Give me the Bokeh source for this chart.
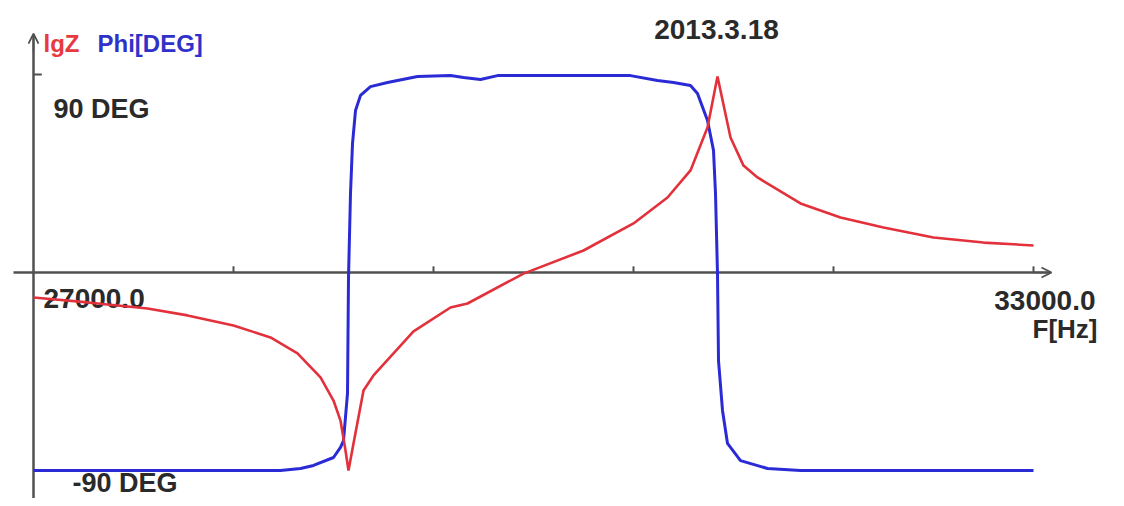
from bokeh.plotting import figure
from bokeh.models import Range1d, Arrow, OpenHead
from bokeh.core.properties import value
from bokeh.embed import file_html
from bokeh.resources import INLINE

# ---- data ----
# Phase (degrees) vs frequency (Hz)
phi_freq = [27000, 28002, 28482, 28602, 28680, 28800, 28842, 28860, 28884, 28890,
            28902, 28914, 28932, 28962, 29022, 29124, 29304, 29502, 29580, 29682,
            29784, 30582, 30744, 30840, 30942, 30984, 31044, 31080, 31092, 31104,
            31110, 31134, 31164, 31242, 31404, 31602, 33000]
phi_deg = [-90, -90, -90, -89.1, -87.7, -84.1, -79.5, -76.4, -55, -2.3,
           35.9, 58.6, 73.6, 80.5, 84.5, 86.4, 89.1, 89.5, 88.6, 87.7,
           89.5, 89.5, 87.3, 86.4, 85, 81.4, 69.1, 55.5, 35.9, -0.5,
           -40, -62.7, -77.7, -85.5, -89.1, -90, -90]

# lgZ (relative, on the same vertical scale as the phase trace)
lgz_freq = [27000, 27324, 27684, 27924, 28200, 28422, 28584, 28722, 28800, 28842,
            28872, 28890, 28920, 28980, 29040, 29280, 29502, 29604, 29940, 30300,
            30600, 30804, 30942, 31044, 31104, 31182, 31260, 31344, 31602, 31842,
            32100, 32400, 32700, 33000]
lgz_val = [-11.4, -13.6, -16.4, -19.5, -24.1, -29.5, -36.8, -47.7, -58.2, -67.3,
           -80.9, -90, -77.7, -53.6, -46.8, -26.8, -15.9, -14.1, -0.5, 10,
           22.3, 34.1, 46.4, 65.9, 89.1, 61.4, 48.6, 43.2, 31.4, 25,
           20.5, 15.9, 13.6, 12.3]

x_start, x_end = 27000, 33000
x_ticks = [28200, 29400, 30600, 31800, 33000]
date_text = "2013.3.18"

# ---- figure ----
W, H = 1108, 498
Y_BOTTOM = -102.73
p = figure(width=W, height=H, output_backend="svg", toolbar_location=None,
           x_range=Range1d(26802, 33450), y_range=Range1d(Y_BOTTOM, 123.64),
           min_border=0)
p.xaxis.visible = False
p.yaxis.visible = False
p.xgrid.visible = False
p.ygrid.visible = False
p.outline_line_color = None
p.background_fill_color = "white"
p.border_fill_color = "white"

AX = "#505050"
TXT = "#2a2a2a"
FONT = value("Liberation Sans")

# texts (drawn first so the traces run over them)
p.text(x=[27060], y=[104.1], text=["lgZ"], text_color="#e53a3f", text_font=FONT,
       text_font_size="24px", text_font_style="bold", text_baseline="middle")
p.text(x=[27384], y=[104.1], text=["Phi[DEG]"], text_color="#2f32c8", text_font=FONT,
       text_font_size="24px", text_font_style="bold", text_baseline="middle")
p.text(x=[27120], y=[74.1], text=["90 DEG"], text_color=TXT, text_font=FONT,
       text_font_size="27px", text_font_style="bold", text_baseline="middle")
p.text(x=[31098], y=[110.5], text=[date_text], text_color=TXT, text_font=FONT,
       text_font_size="28px", text_font_style="bold", text_baseline="middle",
       text_align="center")
p.text(x=[27060], y=[-11.8], text=["%.1f" % x_start], text_color=TXT, text_font=FONT,
       text_font_size="28px", text_font_style="bold", text_baseline="middle")
p.text(x=[33372], y=[-12.7], text=["%.1f" % x_end], text_color=TXT, text_font=FONT,
       text_font_size="28px", text_font_style="bold", text_baseline="middle",
       text_align="right")
p.text(x=[33384], y=[-25.5], text=["F[Hz]"], text_color=TXT, text_font=FONT,
       text_font_size="26px", text_font_style="bold", text_baseline="middle",
       text_align="right")
p.text(x=[27234], y=[-95.5], text=["-90 DEG"], text_color=TXT, text_font=FONT,
       text_font_size="27px", text_font_style="bold", text_baseline="middle")

# axes
p.segment(x0=[26880], y0=[0], x1=[33090], y1=[0], line_color=AX, line_width=2.5)
p.segment(x0=[x_start], y0=[Y_BOTTOM], x1=[x_start], y1=[108], line_color=AX, line_width=2.5)
p.add_layout(Arrow(end=OpenHead(size=10, line_color=AX, line_width=1.8),
                   x_start=33000, y_start=0, x_end=33108, y_end=0,
                   line_color=AX, line_width=1.5))
p.add_layout(Arrow(end=OpenHead(size=10, line_color=AX, line_width=1.8),
                   x_start=x_start, y_start=100, x_end=x_start, y_end=108.6,
                   line_color=AX, line_width=1.5))
p.segment(x0=x_ticks, y0=[0] * len(x_ticks), x1=x_ticks, y1=[2.8] * len(x_ticks),
          line_color=AX, line_width=2)
p.segment(x0=[x_start], y0=[90], x1=[27050], y1=[90], line_color=AX, line_width=2)

# traces
p.line(phi_freq, phi_deg, line_color="#2b2bd6", line_width=3)
p.line(lgz_freq, lgz_val, line_color="#e3313c", line_width=2.6)

open("out.html", "w").write(file_html(p, INLINE))
